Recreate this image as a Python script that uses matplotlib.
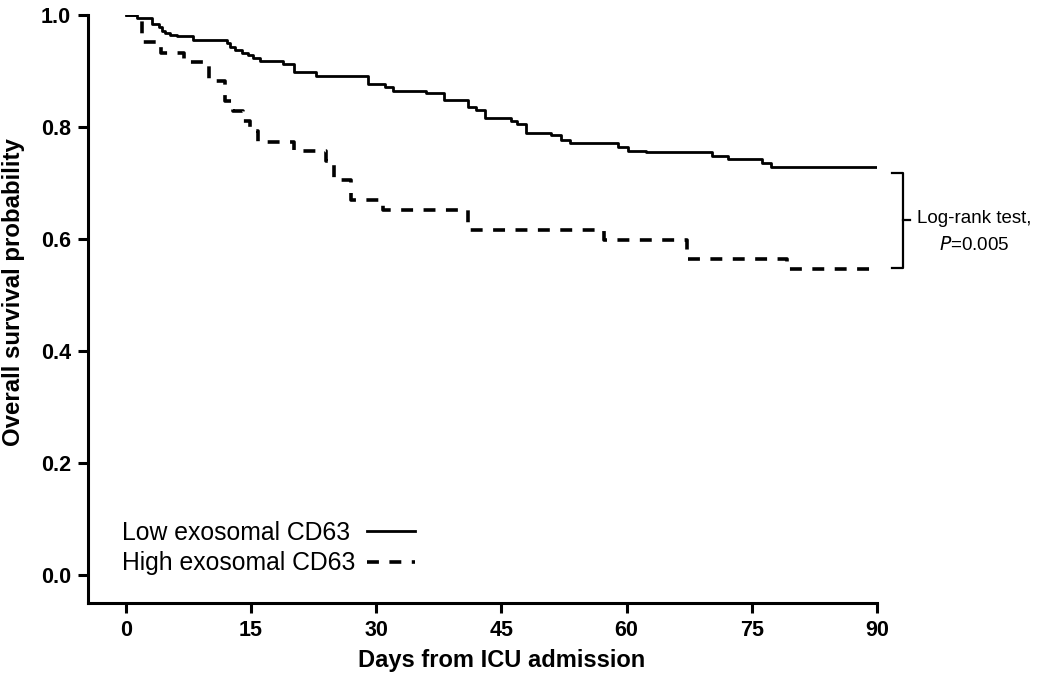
import matplotlib
matplotlib.use("Agg")
import matplotlib.pyplot as plt

plt.rcParams['font.family'] = ['Liberation Sans', 'DejaVu Sans']

# Kaplan-Meier step data (days, survival probability)
low_days = [0, 1.3, 3.1, 4.0, 4.3, 4.7, 5.3, 6.1, 8.0, 12.1, 12.5, 13.1, 13.9, 14.7,
            15.3, 16.1, 18.9, 20.1, 22.8, 29.0, 31.0, 32.0, 36.0, 38.1, 41.0, 42.0,
            43.0, 46.1, 46.9, 48.0, 51.0, 52.2, 53.2, 59.0, 60.2, 62.3, 70.2, 72.2,
            76.2, 77.3, 90]
low_surv = [1.0, 0.995, 0.984, 0.978, 0.972, 0.968, 0.965, 0.962, 0.956, 0.950, 0.943,
            0.937, 0.933, 0.929, 0.924, 0.917, 0.913, 0.899, 0.891, 0.877, 0.871, 0.864,
            0.861, 0.849, 0.836, 0.830, 0.816, 0.811, 0.806, 0.790, 0.785, 0.777, 0.771,
            0.765, 0.758, 0.755, 0.749, 0.742, 0.736, 0.728, 0.728]

high_days = [0, 1.95, 4.2, 7.0, 10.0, 11.9, 12.9, 14.0, 14.9, 15.9, 20.1, 24.0, 25.0,
             27.0, 30.8, 41.0, 57.3, 67.2, 79.2, 90]
high_surv = [1.0, 0.951, 0.933, 0.916, 0.882, 0.847, 0.828, 0.811, 0.792, 0.773, 0.758,
             0.739, 0.706, 0.669, 0.652, 0.616, 0.599, 0.564, 0.547, 0.547]

labels = ["Low exosomal CD63", "High exosomal CD63"]
x_ticks = [0, 15, 30, 45, 60, 75, 90]
y_ticks = [0.0, 0.2, 0.4, 0.6, 0.8, 1.0]
test_text = "Log-rank test,"
p_text = r"$\it{P}$=0.005"

fig = plt.figure(figsize=(10.38, 6.88), dpi=100)
ax = fig.add_axes([87.5 / 1038, 1 - 603 / 688, (877 - 87.5) / 1038, (603 - 15) / 688])

ax.step(low_days, low_surv, where='post', color='black', lw=2.0, label=labels[0])
ln, = ax.step(high_days, high_surv, where='post', color='black', lw=2.6, label=labels[1])
ln.set_dashes([3.3, 2.9])

ax.set_xlim(-4.58, 90)
ax.set_ylim(-0.05, 1.0)
ax.set_xticks(x_ticks)
ax.set_xticklabels([str(v) for v in x_ticks])
ax.set_yticks(y_ticks)
ax.set_yticklabels([f"{v:.1f}" for v in y_ticks])

for s in ['top', 'right']:
    ax.spines[s].set_visible(False)
for s in ['left', 'bottom']:
    ax.spines[s].set_linewidth(2.2)
ax.tick_params(axis='both', direction='out', length=7, width=2.2, labelsize=15.5, pad=5)
for lab in ax.get_xticklabels() + ax.get_yticklabels():
    lab.set_fontweight('bold')

ax.set_xlabel("Days from ICU admission", fontsize=17, fontweight='bold')
ax.set_ylabel("Overall survival probability", fontsize=17.3, fontweight='bold')
ax.xaxis.set_label_coords(0.524, -0.078)
ax.yaxis.set_label_coords(-0.079, 0.528)

leg = ax.legend(loc='upper left', bbox_to_anchor=(122 / 1038, 1 - 521 / 688),
                bbox_transform=fig.transFigure, frameon=False, markerfirst=False,
                fontsize=17.8, handlelength=1.95, handletextpad=0.8, labelspacing=0.25,
                borderpad=0, borderaxespad=0)
# left-align label texts while keeping the handles aligned on the right
try:
    for col in leg._legend_handle_box.get_children():
        col.align = 'left'
        for row in col.get_children():
            row.mode = 'expand'
            row.width = 293
except Exception:
    pass

# bracket for log-rank test
ax.plot([91.8, 93.07, 93.07, 91.8], [0.718, 0.718, 0.549, 0.549], color='black', lw=1.6,
        clip_on=False)
ax.plot([93.07, 93.9], [0.634, 0.634], color='black', lw=1.6, clip_on=False)
ax.text(101.6, 0.636, test_text, ha='center', va='center', fontsize=13.5, clip_on=False)
ax.text(101.6, 0.590, p_text, ha='center', va='center', fontsize=13.5, clip_on=False)

fig.savefig("out.png", dpi=100)
